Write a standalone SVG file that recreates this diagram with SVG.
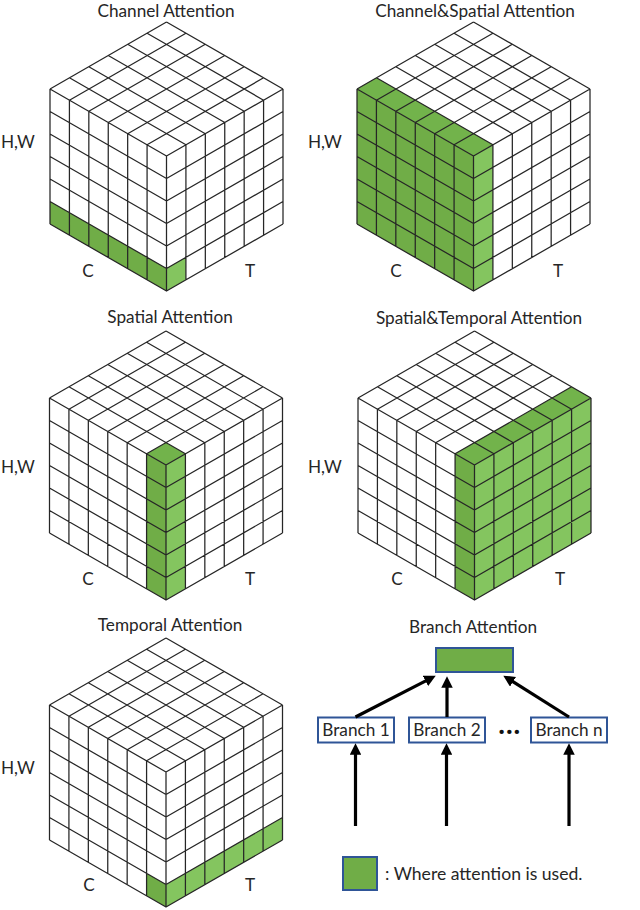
<svg xmlns="http://www.w3.org/2000/svg" xmlns:xlink="http://www.w3.org/1999/xlink" width="640" height="910" viewBox="0 0 640 910">
<style>
text{font-family:"Lato","Open Sans","Liberation Sans",sans-serif;font-size:17.2px;fill:#262626}
.t{text-anchor:middle}
.c{text-anchor:middle}
.g{fill:none;stroke:#262626;stroke-width:1.25;stroke-linejoin:round}
.d{fill:#70AD47}
.l{fill:#84C55F}
.tp{fill:#72B34B}
.b{fill:#fff;stroke:#2F5597;stroke-width:2}
.gb{fill:#70AD47;stroke:#2F5597;stroke-width:2}
.a{stroke:#000;stroke-width:3.2;fill:none;marker-end:url(#h)}
</style>
<defs>
<marker id="h" viewBox="0 0 10 10" refX="5" refY="5" markerWidth="3.6" markerHeight="3.6" orient="auto"><path d="M0 0L10 5L0 10Z" fill="#000"/></marker>
<path id="grid" class="g" d="M0 0L116.5 67M-19.42 11.17L97.08 78.17M-38.83 22.33L77.67 89.33M-58.25 33.5L58.25 100.5M-77.67 44.67L38.83 111.67M-97.08 55.83L19.42 122.83M-116.5 67L0 134M0 0L-116.5 67M19.42 11.17L-97.08 78.17M38.83 22.33L-77.67 89.33M58.25 33.5L-58.25 100.5M77.67 44.67L-38.83 111.67M97.08 55.83L-19.42 122.83M116.5 67L0 134M-116.5 67V202M-97.08 78.17V213.17M-77.67 89.33V224.33M-58.25 100.5V235.5M-38.83 111.67V246.67M-19.42 122.83V257.83M0 134V269M19.42 122.83V257.83M38.83 111.67V246.67M58.25 100.5V235.5M77.67 89.33V224.33M97.08 78.17V213.17M116.5 67V202M-116.5 89.5L0 156.5L116.5 89.5M-116.5 112L0 179L116.5 112M-116.5 134.5L0 201.5L116.5 134.5M-116.5 157L0 224L116.5 157M-116.5 179.5L0 246.5L116.5 179.5M-116.5 202L0 269L116.5 202"/>
</defs>

<g id="channel-attention">
<text class="t" x="166" y="17">Channel Attention</text>
<g transform="translate(166.5 22)">
<path class="d" d="M-116.5 179.5L0 246.5V269L-116.5 202Z"/>
<path class="l" d="M0 246.5L19.42 235.33V257.83L0 269Z"/>
<use xlink:href="#grid" href="#grid"/>
</g>
<text x="1" y="148">H,W</text>
<text class="c" x="88" y="277">C</text>
<text class="c" x="250" y="277">T</text>
</g>

<g id="channel-spatial-attention">
<text class="t" x="475" y="17">Channel&amp;Spatial Attention</text>
<g transform="translate(473.5 22)">
<path class="tp" d="M-116.5 67L0 134L19.42 122.83L-97.08 55.83Z"/>
<path class="d" d="M-116.5 67L0 134V269L-116.5 202Z"/>
<path class="l" d="M0 134L19.42 122.83V257.83L0 269Z"/>
<use xlink:href="#grid" href="#grid"/>
</g>
<text x="308" y="148">H,W</text>
<text class="c" x="396" y="277">C</text>
<text class="c" x="558" y="277">T</text>
</g>

<g id="spatial-attention">
<text class="t" x="170" y="323">Spatial Attention</text>
<g transform="translate(166 331)">
<path class="tp" d="M0 134L-19.42 122.83L0 111.67L19.42 122.83Z"/>
<path class="d" d="M-19.42 122.83L0 134V269L-19.42 257.83Z"/>
<path class="l" d="M0 134L19.42 122.83V257.83L0 269Z"/>
<use xlink:href="#grid" href="#grid"/>
</g>
<text x="1" y="473">H,W</text>
<text class="c" x="88" y="585">C</text>
<text class="c" x="250" y="585">T</text>
</g>

<g id="spatial-temporal-attention">
<text class="t" x="479" y="324">Spatial&amp;Temporal Attention</text>
<g transform="translate(474.5 331)">
<path class="tp" d="M0 134L116.5 67L97.08 55.83L-19.42 122.83Z"/>
<path class="d" d="M-19.42 122.83L0 134V269L-19.42 257.83Z"/>
<path class="l" d="M0 134L116.5 67V202L0 269Z"/>
<use xlink:href="#grid" href="#grid"/>
</g>
<text x="308" y="473">H,W</text>
<text class="c" x="397" y="585">C</text>
<text class="c" x="560" y="585">T</text>
</g>

<g id="temporal-attention">
<text class="t" x="170" y="631">Temporal Attention</text>
<g transform="translate(166 638)">
<path class="d" d="M-19.42 235.33L0 246.5V269L-19.42 257.83Z"/>
<path class="l" d="M0 246.5L116.5 179.5V202L0 269Z"/>
<use xlink:href="#grid" href="#grid"/>
</g>
<text x="1" y="774">H,W</text>
<text class="c" x="89" y="891">C</text>
<text class="c" x="250" y="891">T</text>
</g>

<g id="branch-attention">
<text class="t" x="473" y="633">Branch Attention</text>
<rect class="gb" x="436" y="648" width="77" height="24"/>
</g>
<g id="branch-1">
<rect class="b" x="318" y="717.5" width="76" height="25"/>
<text class="t" x="356" y="736">Branch 1</text>
</g>
<g id="branch-2">
<rect class="b" x="409" y="717.5" width="76" height="25"/>
<text class="t" x="447" y="736">Branch 2</text>
</g>
<text id="dots" class="t" x="510" y="733.5" style="font-weight:900;letter-spacing:1.5px;font-size:26px;fill:#111">...</text>
<g id="branch-n">
<rect class="b" x="531" y="717.5" width="76" height="25"/>
<text class="t" x="569" y="736">Branch n</text>
</g>
<g id="connectors">
<line class="a" x1="355.5" y1="717" x2="430.6" y2="678.3"/>
<line class="a" x1="447" y1="717" x2="447" y2="682"/>
<line class="a" x1="569" y1="717" x2="508.2" y2="678.7"/>
<line class="a" x1="355.5" y1="826" x2="355.5" y2="749"/>
<line class="a" x1="446.5" y1="826" x2="446.5" y2="749"/>
<line class="a" x1="569" y1="826" x2="569" y2="749"/>
</g>
<g id="legend">
<rect class="gb" x="343" y="857" width="34" height="33"/>
<text x="385" y="880" style="font-size:17.6px">: Where attention is used.</text>
</g>
</svg>
